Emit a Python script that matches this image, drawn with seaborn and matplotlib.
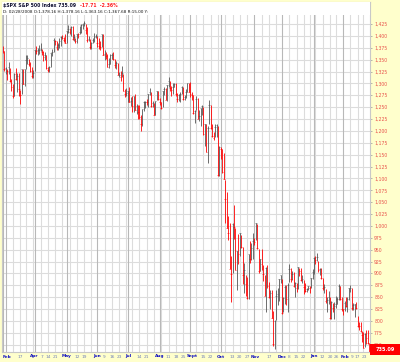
import numpy as np
import pandas as pd
import matplotlib
matplotlib.use("Agg")
import matplotlib.pyplot as plt
import matplotlib.transforms as mtransforms
from matplotlib.patches import Rectangle
import seaborn as sns

# ---------------- data (S&P 500 daily, 2008-02-28 .. 2009-02-27) ----------------
high = [1378.16, 1368, 1335, 1331, 1344, 1333, 1310, 1298, 1321, 1333,
        1321, 1321, 1287, 1331, 1331, 1330, 1360, 1359, 1352, 1345,
        1334, 1328, 1370, 1378, 1375, 1381, 1386, 1372, 1368, 1367,
        1359, 1335, 1337, 1365, 1372, 1396, 1391, 1389, 1385, 1396,
        1399, 1402, 1397, 1404, 1410, 1422, 1416, 1421, 1420, 1404,
        1396, 1404, 1407, 1421, 1424, 1426, 1432, 1425, 1419, 1399,
        1393, 1387, 1395, 1406, 1404, 1400, 1396, 1389, 1405, 1404,
        1370, 1366, 1361, 1353, 1361, 1364, 1366, 1351, 1347, 1343,
        1325, 1326, 1336, 1320, 1289, 1291, 1285, 1292, 1272, 1274,
        1274, 1278, 1257, 1254, 1254, 1234, 1246, 1263, 1262, 1267,
        1278, 1291, 1282, 1263, 1258, 1263, 1285, 1285, 1270, 1260,
        1285, 1292, 1290, 1297, 1313, 1304, 1294, 1300, 1301, 1300,
        1279, 1277, 1281, 1294, 1292, 1275, 1288, 1301, 1300, 1303,
        1281, 1275, 1244, 1274, 1270, 1243, 1249, 1255, 1250, 1215,
        1214, 1211, 1265, 1255, 1214, 1197, 1215, 1215, 1210, 1168,
        1167, 1162, 1154, 1097, 1072, 1021, 1006, 936, 1006, 1044,
        995, 948, 984, 985, 981, 955, 923, 896, 893, 941,
        969, 963, 985, 975, 1007, 1005, 951, 931, 951, 917,
        897, 913, 917, 882, 866, 865, 820, 801, 865, 869,
        888, 897, 889, 850, 875, 875, 879, 919, 911, 906,
        904, 883, 880, 914, 911, 912, 897, 887, 880, 869,
        873, 873, 891, 910, 934, 937, 944, 927, 911, 911,
        890, 877, 867, 851, 864, 850, 841, 838, 839, 852,
        851, 877, 873, 851, 826, 842, 851, 850, 870, 876,
        869, 838, 836, 839, 811, 797, 797, 778, 777, 775,
        781, 780, 753]

low = [1363.16, 1326, 1320, 1307, 1320, 1303, 1283, 1270, 1274, 1307,
       1282, 1274, 1257, 1277, 1298, 1295, 1330, 1340, 1336, 1325,
       1312, 1312, 1326, 1361, 1359, 1362, 1369, 1360, 1348, 1350,
       1331, 1324, 1324, 1335, 1358, 1366, 1380, 1370, 1370, 1375,
       1379, 1394, 1387, 1384, 1385, 1406, 1404, 1399, 1392, 1390,
       1384, 1386, 1395, 1403, 1406, 1414, 1421, 1403, 1388, 1389,
       1373, 1372, 1384, 1388, 1396, 1377, 1373, 1370, 1377, 1359,
       1350, 1351, 1335, 1333, 1341, 1352, 1350, 1333, 1330, 1317,
       1313, 1304, 1314, 1283, 1272, 1274, 1260, 1261, 1252, 1240,
       1240, 1244, 1236, 1225, 1226, 1200, 1211, 1242, 1248, 1255,
       1250, 1276, 1251, 1251, 1234, 1234, 1264, 1264, 1254, 1247,
       1250, 1276, 1264, 1262, 1292, 1285, 1274, 1277, 1292, 1274,
       1260, 1262, 1261, 1278, 1264, 1264, 1270, 1282, 1282, 1272,
       1265, 1236, 1217, 1243, 1224, 1221, 1211, 1233, 1192, 1169,
       1156, 1133, 1214, 1205, 1187, 1180, 1187, 1187, 1106, 1106,
       1140, 1111, 1098, 1007, 996, 970, 909, 840, 900, 972,
       907, 866, 919, 937, 953, 877, 858, 853, 846, 846,
       922, 928, 930, 959, 971, 952, 900, 906, 907, 884,
       852, 818, 869, 848, 826, 806, 748, 741, 801, 834,
       842, 880, 815, 818, 836, 833, 818, 881, 883, 886,
       872, 851, 860, 868, 895, 884, 880, 857, 860, 861,
       866, 858, 870, 889, 899, 919, 927, 902, 896, 888,
       865, 858, 837, 818, 836, 804, 804, 818, 805, 828,
       836, 845, 844, 821, 812, 821, 829, 819, 845, 861,
       822, 823, 809, 826, 788, 780, 777, 755, 743, 745,
       752, 752, 734.5]

close = [1367.68, 1330.63, 1331.34, 1326.75, 1333.70, 1304.34, 1293.37, 1273.37, 1320.65, 1308.77,
         1315.48, 1288.14, 1276.60, 1330.74, 1298.42, 1329.51, 1349.88, 1352.99, 1341.13, 1325.76,
         1315.22, 1322.70, 1370.18, 1367.53, 1369.31, 1370.40, 1372.54, 1365.54, 1354.49, 1360.55,
         1332.83, 1328.32, 1334.43, 1364.71, 1365.56, 1390.33, 1388.17, 1375.94, 1379.93, 1388.82,
         1397.84, 1396.37, 1390.94, 1385.59, 1409.34, 1413.90, 1407.49, 1418.26, 1392.57, 1397.68,
         1388.28, 1403.58, 1403.04, 1408.66, 1423.57, 1425.35, 1426.63, 1413.40, 1390.71, 1394.35,
         1375.93, 1385.35, 1390.84, 1398.26, 1400.38, 1385.67, 1377.65, 1377.20, 1404.05, 1360.68,
         1361.76, 1358.44, 1335.49, 1339.87, 1360.03, 1360.14, 1350.93, 1337.81, 1342.83, 1317.93,
         1318.00, 1314.29, 1321.97, 1283.15, 1278.38, 1280.00, 1284.91, 1261.52, 1262.90, 1252.31,
         1273.70, 1244.69, 1253.39, 1239.49, 1228.30, 1214.91, 1245.36, 1260.32, 1260.68, 1260.00,
         1277.00, 1282.19, 1252.54, 1257.76, 1234.37, 1263.20, 1284.26, 1267.38, 1260.31, 1249.01,
         1284.88, 1289.19, 1266.07, 1296.32, 1305.32, 1289.59, 1285.83, 1292.93, 1298.20, 1278.60,
         1266.69, 1274.54, 1277.72, 1292.20, 1266.84, 1271.51, 1281.66, 1300.68, 1282.83, 1277.58,
         1274.98, 1236.83, 1242.31, 1267.79, 1224.51, 1232.04, 1249.05, 1251.70, 1192.70, 1213.60,
         1156.39, 1206.51, 1255.08, 1207.09, 1188.22, 1185.87, 1209.18, 1213.27, 1106.39, 1166.36,
         1161.06, 1114.28, 1099.23, 1056.89, 996.23, 984.94, 909.92, 899.22, 1003.35, 998.01,
         907.84, 946.43, 940.55, 985.40, 955.05, 896.78, 908.11, 876.77, 848.92, 940.51,
         930.09, 954.09, 968.75, 966.30, 1005.75, 952.77, 904.88, 930.99, 919.21, 898.95,
         852.30, 911.29, 873.29, 850.75, 859.12, 806.58, 752.44, 800.03, 851.81, 857.39,
         887.68, 896.24, 816.21, 848.81, 870.74, 845.22, 876.07, 909.70, 888.67, 899.24,
         873.59, 879.73, 868.57, 913.18, 904.42, 885.28, 887.88, 871.63, 863.16, 868.15,
         872.80, 869.42, 890.64, 903.25, 931.80, 927.45, 934.70, 906.65, 909.73, 890.35,
         870.26, 871.79, 842.62, 843.74, 850.12, 805.22, 840.24, 827.50, 831.95, 836.57,
         845.71, 874.09, 845.14, 825.88, 825.44, 838.51, 832.23, 845.85, 868.60, 869.89,
         827.16, 833.74, 835.19, 826.84, 789.17, 788.42, 778.94, 770.05, 743.33, 773.14,
         764.90, 752.83, 735.09]

first_open = 1378.16

holidays = ["2008-03-21", "2008-05-26", "2008-07-04", "2008-09-01", "2008-11-27",
            "2008-12-25", "2009-01-01", "2009-01-19", "2009-02-16"]

tick_dates = ["2008-02-28", "2008-03-17", "2008-04-01", "2008-04-07", "2008-04-14",
              "2008-04-21", "2008-05-01", "2008-05-12", "2008-05-19", "2008-06-02",
              "2008-06-09", "2008-06-16", "2008-06-23", "2008-07-01", "2008-07-14",
              "2008-07-21", "2008-08-01", "2008-08-11", "2008-08-18", "2008-08-25",
              "2008-09-02", "2008-09-15", "2008-09-22", "2008-10-01", "2008-10-13",
              "2008-10-20", "2008-10-27", "2008-11-03", "2008-11-17", "2008-12-01",
              "2008-12-08", "2008-12-15", "2008-12-22", "2009-01-02", "2009-01-12",
              "2009-01-20", "2009-01-26", "2009-02-02", "2009-02-09", "2009-02-17",
              "2009-02-23"]
tick_labels = ["Feb", "17", "Apr", "7", "14", "21", "May", "12", "19", "Jun",
               "9", "16", "23", "Jul", "14", "21", "Aug", "11", "18", "25",
               "Sept", "15", "22", "Oct", "13", "20", "27", "Nov", "17", "Dec",
               "8", "15", "22", "Jan", "12", "20", "26", "Feb", "9", "17", "23"]
month_names = ["Feb", "Apr", "May", "Jun", "Jul", "Aug", "Sept", "Oct", "Nov", "Dec", "Jan"]

price_ticks = [750, 775, 800, 825, 850, 875, 900, 925, 950, 975, 1000, 1025, 1050, 1075,
               1100, 1125, 1150, 1175, 1200, 1225, 1250, 1275, 1300, 1325, 1350, 1375,
               1400, 1425]

title_main = "$SPX S&P 500 Index 735.09"
title_change = "-17.71  -2.36%"
title_line2 = "D: 02/28/2008 O:1,378.16 H:1,378.16 L:1,363.16 C:1,367.68 R:15.00 Y:"
last_label = "735.09"

# ---------------- build ----------------
sns.set_style("white")
plt.rcParams["font.family"] = ["DejaVu Sans"]

dates = pd.bdate_range("2008-02-28", "2009-02-27")
dates = dates[~dates.isin(pd.to_datetime(holidays))]
n = len(close)
assert len(dates) == n == len(high) == len(low)

df = pd.DataFrame({"date": dates, "high": high, "low": low, "close": close})
df["pos"] = np.arange(n)
prev = np.r_[first_open, df["close"].values[:-1]]
df["dir"] = np.where(df["close"].values < prev, "down", "up")

W, H = 400, 362
fig = plt.figure(figsize=(W / 100, H / 100), dpi=100, facecolor="#FFFFCC")
ax_l, ax_r, ax_t, ax_b = 2, 370, 2, 352
ax = fig.add_axes([ax_l / W, 1 - ax_b / H, (ax_r - ax_l) / W, (ax_b - ax_t) / H])
ax.set_facecolor("white")

ppp = 0.4751
ytop = 1425 + (24 - ax_t) / ppp
ybot = 1425 - (ax_b - 24) / ppp
ax.set_ylim(ybot, ytop)
ax.set_xlim(-0.5, n - 0.5)

for v in price_ticks:
    ax.axhline(v, color="#DCDCDC", lw=0.8, zorder=0.5)

wk = df["date"].dt.isocalendar().week.values
mo = df["date"].dt.month.values
for i in range(n):
    new_month = i == 0 or mo[i] != mo[i - 1]
    new_week = i == 0 or wk[i] != wk[i - 1]
    if new_month:
        ax.axvline(i, color="#B8B8B8", lw=0.8, zorder=0.6)
    elif new_week:
        ax.axvline(i, color="#DCDCDC", lw=0.8, zorder=0.5)

colors = {"down": "#FF0000", "up": "#555555"}
for d, sub in df.groupby("dir"):
    ax.vlines(sub["pos"], sub["low"], sub["high"], color=colors[d], lw=0.6, zorder=2)
sns.scatterplot(data=df, x="pos", y="close", hue="dir", palette=colors, marker="_",
                s=1.5, linewidth=0.4, legend=False, ax=ax, zorder=2.1)
ax.set_xlabel("")
ax.set_ylabel("")

ax.add_patch(Rectangle((0, 1 - 13 / (ax_b - ax_t)), 1, 13 / (ax_b - ax_t),
                       transform=ax.transAxes, facecolor="white", edgecolor="none", zorder=3))

ax.yaxis.tick_right()
ax.set_yticks(price_ticks)
ax.set_yticklabels([f"{v:,}" for v in price_ticks])
ax.tick_params(axis="y", labelsize=3.3, labelcolor="#E8504A", length=1.5, width=0.5,
               color="#999999", pad=1.5)
ax.set_xticks([])

for s in ax.spines.values():
    s.set_color("#C8C8C8")
    s.set_linewidth(0.8)

# x labels: centred on their date, then nudged right where they would collide
date_index = {d.strftime("%Y-%m-%d"): i for i, d in enumerate(df["date"])}
trans = mtransforms.blended_transform_factory(ax.transData, ax.transAxes)
texts = []
for k, (dstr, lab) in enumerate(zip(tick_dates, tick_labels)):
    pos = date_index[dstr]
    is_month = lab in month_names
    t = ax.text(pos if k > 0 else -0.3, -4.5 / (ax_b - ax_t), lab, transform=trans,
                ha="center" if k > 0 else "left", va="center", fontsize=3.1,
                color="#1010C0" if is_month else "#7080B8",
                fontweight="bold" if is_month else "normal", clip_on=False)
    texts.append(t)

renderer = fig.canvas.get_renderer()
prev_right = -1e9
for t in texts:
    bb = t.get_window_extent(renderer)
    shift = 0.0
    if bb.x0 < prev_right + 1.2:
        shift = prev_right + 1.2 - bb.x0
        t.set_transform(mtransforms.offset_copy(trans, fig=fig, x=shift * 72 / fig.dpi,
                                                y=0, units="points"))
    prev_right = bb.x1 + shift

fig.text(3 / W, 1 - 5.5 / H, title_main, fontsize=3.3, fontweight="bold",
         color="#101030", va="center", ha="left")
fig.text(80 / W, 1 - 5.5 / H, title_change, fontsize=3.3, fontweight="bold",
         color="#FF2020", va="center", ha="left")
fig.text(3 / W, 1 - 12 / H, title_line2, fontsize=3.0, color="#101010",
         va="center", ha="left")

fig.add_artist(Rectangle((370 / W, 1 - 355 / H), 30 / W, 11 / H, transform=fig.transFigure,
                         facecolor="#FF0000", edgecolor="none"))
fig.text(385 / W, 1 - 349.5 / H, last_label, fontsize=3.6, fontweight="bold",
         color="white", ha="center", va="center")

fig.savefig("out.png", dpi=100, facecolor=fig.get_facecolor())
